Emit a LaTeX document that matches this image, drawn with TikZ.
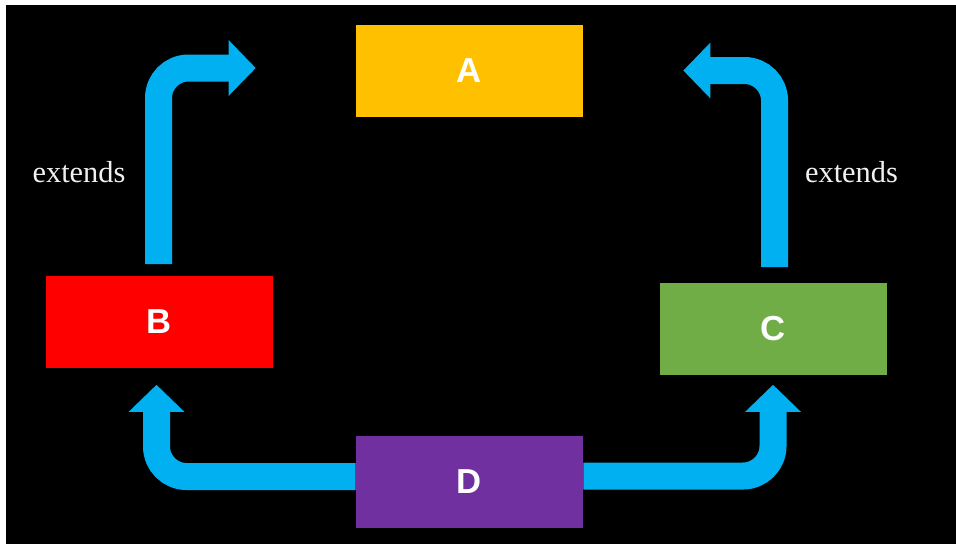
\documentclass[tikz,border=0pt]{standalone}
\usepackage{fontspec}
\setmainfont{Liberation Serif}
\setsansfont{Liberation Sans}
\usetikzlibrary{arrows.meta,calc}

\definecolor{boxA}{HTML}{FFC000}
\definecolor{boxB}{HTML}{FF0000}
\definecolor{boxC}{HTML}{70AD47}
\definecolor{boxD}{HTML}{7030A0}
\definecolor{flowblue}{HTML}{00B0F0}

\tikzset{
  classbox/.style={minimum width=170.25pt, minimum height=69pt, inner sep=0pt,
    text=white, font=\fontsize{26}{30}\selectfont\sffamily\bfseries},
  flow/.style={draw=flowblue, line width=20.25pt, rounded corners=22.5pt,
    line cap=butt,
    -{Triangle[width=40.5pt, length=20.25pt, fill=flowblue]}},
  relabel/.style={text=white!94!black, font=\fontsize{22.8}{26}\selectfont, inner sep=0pt}
}

\begin{document}
\begin{tikzpicture}[x=0.75pt, y=-0.75pt]
  % page and dark canvas
  \useasboundingbox (0,0) rectangle (956,544);
  \fill[white] (0,0) rectangle (956,544);
  \fill[black] (6,5) rectangle (956,544);

  % classes
  \node[classbox, fill=boxA] (A) at (469.5,70.5) {A};
  \node[classbox, fill=boxB] (B) at (159.5,321.5) {B};
  \node[classbox, fill=boxC] (C) at (773,328.5) {C};
  \node[classbox, fill=boxD] (D) at (469.5,481.5) {D};

  % inheritance arrows
  \draw[flow] ($(B.north)+(-1,-11)$) |- ($(A.west)+(-100,-2.5)$);
  \draw[flow] ($(C.north)+(1.5,-15)$) |- ($(A.east)+(100,0)$);
  \draw[flow] ($(D.west)+(0,-5)$) -| ($(B.south)+(-3,17)$);
  \draw[flow] ($(D.east)+(0,-5.5)$) -| ($(C.south)+(0,10)$);

  % labels
  \node[relabel, anchor=base] (extL) at (79,182) {extends};
  \node[relabel, anchor=base] (extR) at (851.5,182) {extends};
\end{tikzpicture}
\end{document}
